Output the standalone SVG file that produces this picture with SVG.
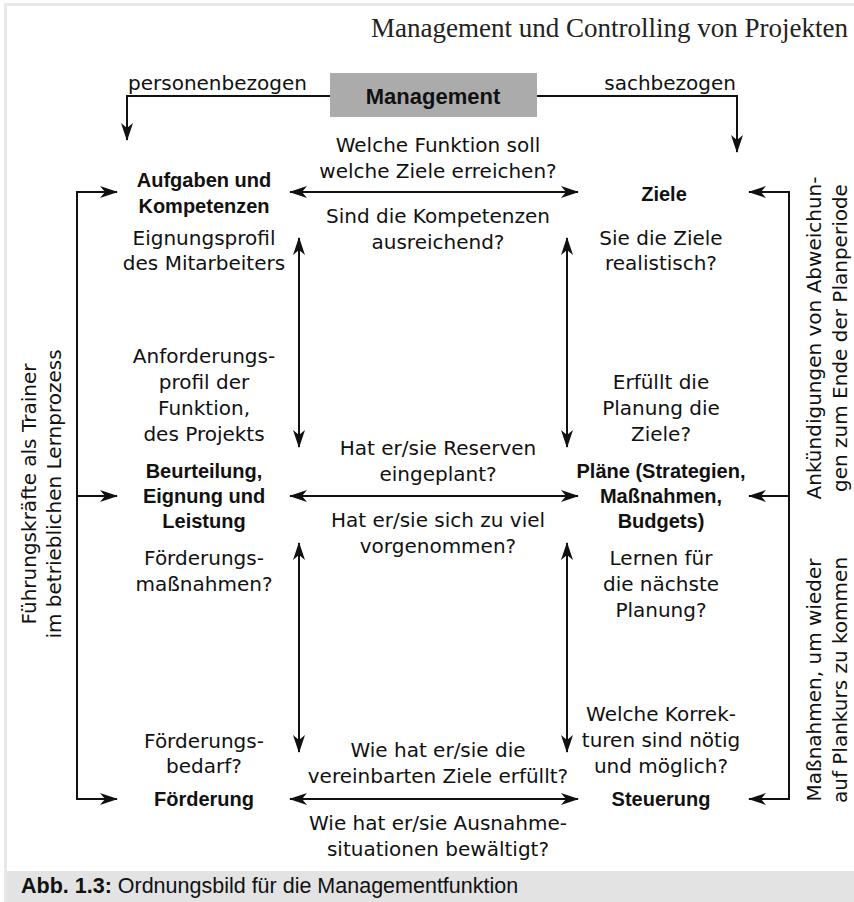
<svg xmlns="http://www.w3.org/2000/svg" width="854" height="902" viewBox="0 0 854 902">
<style>
.t{font-family:"DejaVu Sans",sans-serif;font-size:20px;fill:#111;text-anchor:middle}
.b{font-family:"Liberation Sans",Arial,sans-serif;font-size:20px;font-weight:bold;fill:#111;text-anchor:middle}
.ln{stroke:#111;stroke-width:2;fill:none}
.ar{marker-end:url(#ah)}
.da{marker-start:url(#ah);marker-end:url(#ah)}
</style>
<defs>
<marker id="ah" markerUnits="userSpaceOnUse" markerWidth="18" markerHeight="12" refX="17" refY="6" orient="auto-start-reverse" viewBox="0 0 18 12">
<path d="M0,0 L18,6 L0,12 L5,6 z" fill="#111"/>
</marker>
</defs>
<rect width="854" height="902" fill="#fff"/>
<g id="frame">
<rect x="4" y="3" width="850" height="3" fill="#e8e8e8"/>
<rect x="4" y="3" width="3" height="899" fill="#e8e8e8"/>
<rect x="7" y="871" width="847" height="31" fill="#e3e3e3"/>
</g>
<g id="header">
<text x="848" y="37" style="font-family:'Liberation Serif',serif;font-size:27px;fill:#222;text-anchor:end">Management und Controlling von Projekten</text>
</g>
<g id="connectors">
<path class="ln ar" d="M330,96 H127 V140"/>
<path class="ln ar" d="M537,96 H737 V152"/>
<path class="ln" d="M77,191 V800"/>
<path class="ln ar" d="M76,192 H117"/>
<path class="ln ar" d="M76,496 H117"/>
<path class="ln ar" d="M76,799 H117"/>
<path class="ln" d="M789,191 V800"/>
<path class="ln ar" d="M790,192 H749"/>
<path class="ln ar" d="M790,496 H749"/>
<path class="ln ar" d="M790,799 H749"/>
<path class="ln da" d="M290,192 H578"/>
<path class="ln da" d="M290,496 H578"/>
<path class="ln da" d="M290,799 H578"/>
<path class="ln da" d="M299,238 V447"/>
<path class="ln da" d="M567,238 V447"/>
<path class="ln da" d="M299,543 V752"/>
<path class="ln da" d="M567,543 V752"/>
</g>
<g id="management">
<rect x="330" y="73" width="207" height="44" fill="#ababab"/>
<text class="b" x="433" y="104" style="font-size:22px">Management</text>
</g>
<g id="edge-labels">
<text class="t" x="128" y="90" style="text-anchor:start">personenbezogen</text>
<text class="t" x="736" y="90" style="text-anchor:end">sachbezogen</text>
<text class="t" x="438" y="152">Welche Funktion soll</text>
<text class="t" x="438" y="178">welche Ziele erreichen?</text>
<text class="t" x="438" y="223">Sind die Kompetenzen</text>
<text class="t" x="438" y="249">ausreichend?</text>
<text class="t" x="438" y="455">Hat er/sie Reserven</text>
<text class="t" x="438" y="481">eingeplant?</text>
<text class="t" x="438" y="527">Hat er/sie sich zu viel</text>
<text class="t" x="438" y="553">vorgenommen?</text>
<text class="t" x="438" y="757">Wie hat er/sie die</text>
<text class="t" x="438" y="783">vereinbarten Ziele erfüllt?</text>
<text class="t" x="438" y="830">Wie hat er/sie Ausnahme-</text>
<text class="t" x="438" y="856">situationen bewältigt?</text>
<text class="t" x="204" y="245">Eignungsprofil</text>
<text class="t" x="204" y="270">des Mitarbeiters</text>
<text class="t" x="204" y="363">Anforderungs-</text>
<text class="t" x="204" y="389">profil der</text>
<text class="t" x="204" y="415">Funktion,</text>
<text class="t" x="204" y="441">des Projekts</text>
<text class="t" x="204" y="565">Förderungs-</text>
<text class="t" x="204" y="591">maßnahmen?</text>
<text class="t" x="204" y="748">Förderungs-</text>
<text class="t" x="204" y="773">bedarf?</text>
<text class="t" x="661" y="245">Sie die Ziele</text>
<text class="t" x="661" y="270">realistisch?</text>
<text class="t" x="661" y="389">Erfüllt die</text>
<text class="t" x="661" y="415">Planung die</text>
<text class="t" x="661" y="441">Ziele?</text>
<text class="t" x="661" y="565">Lernen für</text>
<text class="t" x="661" y="591">die nächste</text>
<text class="t" x="661" y="617">Planung?</text>
<text class="t" x="661" y="721">Welche Korrek-</text>
<text class="t" x="661" y="747">turen sind nötig</text>
<text class="t" x="661" y="773">und möglich?</text>
</g>
<g id="aufgaben">
<text class="b" x="204" y="187">Aufgaben und</text>
<text class="b" x="204" y="213">Kompetenzen</text>
</g>
<g id="ziele">
<text class="b" x="664" y="201">Ziele</text>
</g>
<g id="beurteilung">
<text class="b" x="204" y="478">Beurteilung,</text>
<text class="b" x="204" y="503">Eignung und</text>
<text class="b" x="204" y="528">Leistung</text>
</g>
<g id="plaene">
<text class="b" x="661" y="478">Pläne (Strategien,</text>
<text class="b" x="661" y="503">Maßnahmen,</text>
<text class="b" x="661" y="528">Budgets)</text>
</g>
<g id="foerderung">
<text class="b" x="204" y="806">Förderung</text>
</g>
<g id="steuerung">
<text class="b" x="661" y="806">Steuerung</text>
</g>
<g id="side-labels">
<text class="t" transform="translate(36,494) rotate(-90)">Führungskräfte als Trainer</text>
<text class="t" transform="translate(61,494) rotate(-90)">im betrieblichen Lernprozess</text>
<text class="t" transform="translate(821,338) rotate(-90)">Ankündigungen von Abweichun-</text>
<text class="t" transform="translate(847,338) rotate(-90)">gen zum Ende der Planperiode</text>
<text class="t" transform="translate(821,680) rotate(-90)">Maßnahmen, um wieder</text>
<text class="t" transform="translate(847,680) rotate(-90)">auf Plankurs zu kommen</text>
</g>
<g id="caption">
<text x="21" y="893" style="font-family:'Liberation Sans',Arial,sans-serif;font-size:21.5px;fill:#111"><tspan font-weight="bold">Abb. 1.3:</tspan> Ordnungsbild für die Managementfunktion</text>
</g>
</svg>
